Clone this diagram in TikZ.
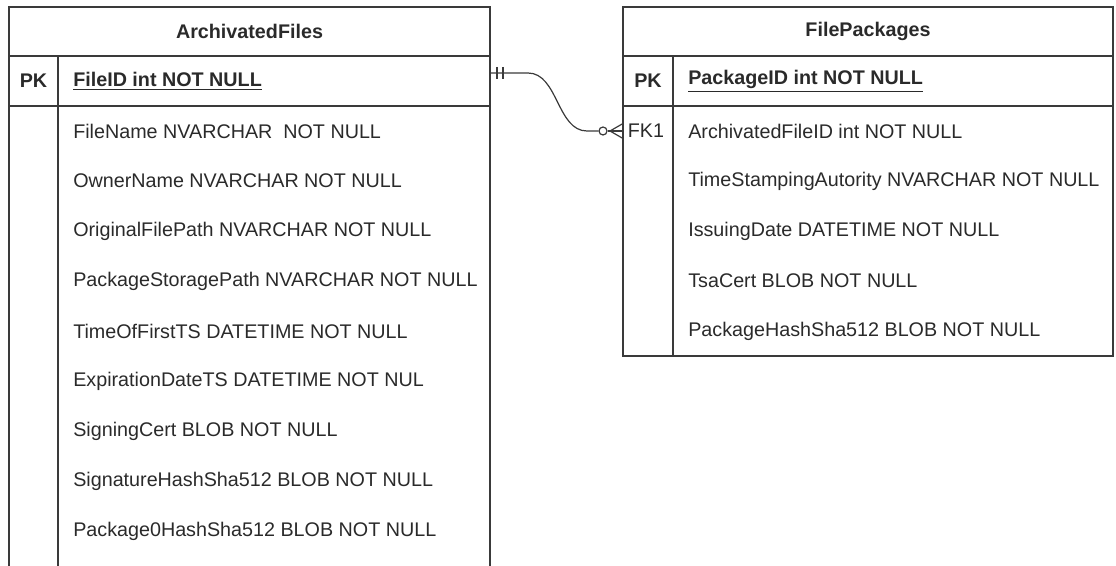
\documentclass[tikz,border=0pt]{standalone}
\usepackage{fontspec}
\setmainfont{Liberation Sans}
\usetikzlibrary{calc}
\definecolor{linec}{HTML}{3A3A3A}
\definecolor{txtc}{HTML}{2A2A2A}
\newcommand{\fldfont}{\fontsize{14.8}{17}\selectfont}
\tikzset{
  tbl/.style={draw=linec, line width=1.1pt},
  fld/.style={anchor=west, inner sep=0pt, font=\fldfont, text=txtc},
  keycell/.style={anchor=center, inner sep=0pt, font=\fldfont, text=txtc},
  title/.style={anchor=center, inner sep=0pt, font=\fldfont\bfseries, text=txtc},
  conn/.style={draw=linec, line width=0.9pt},
}
\begin{document}
\begin{tikzpicture}[x=0.75pt,y=-0.75pt]
\useasboundingbox (0,0) rectangle (1116,566);

% ---- ArchivatedFiles table (continues below the page edge)
\draw[tbl] (9,566) -- (9,7) -- (490,7) -- (490,566);
\draw[tbl] (9,56) -- (490,56);
\draw[tbl] (9,106) -- (490,106);
\draw[tbl] (58,56) -- (58,566);

\node[title] (afTitle) at (249.5,31) {ArchivatedFiles};
\node[keycell,font=\fldfont\bfseries] (afPK) at (33.5,81) {PK};
\node[fld,font=\fldfont\bfseries] (afId) at (73,81) {\underline{FileID int NOT NULL}};
\node[fld] (af1) at (73,131) {FileName NVARCHAR\ \ NOT NULL};
\node[fld] (af2) at (73,181) {OwnerName NVARCHAR NOT NULL};
\node[fld] (af3) at (73,231) {OriginalFilePath NVARCHAR NOT NULL};
\node[fld] (af4) at (73,281) {PackageStoragePath NVARCHAR NOT NULL};
\node[fld] (af5) at (73,331) {TimeOfFirstTS DATETIME NOT NULL};
\node[fld] (af6) at (73,381) {ExpirationDateTS DATETIME NOT NUL};
\node[fld] (af7) at (73,431) {SigningCert BLOB NOT NULL};
\node[fld] (af8) at (73,481) {SignatureHashSha512 BLOB NOT NULL};
\node[fld] (af9) at (73,531) {Package0HashSha512 BLOB NOT NULL};

% ---- FilePackages table
\draw[tbl] (623,7) rectangle (1113,356);
\draw[tbl] (623,56) -- (1113,56);
\draw[tbl] (623,106) -- (1113,106);
\draw[tbl] (673,56) -- (673,356);

\node[title] (fpTitle) at (868,31) {FilePackages};
\node[keycell,font=\fldfont\bfseries] (fpPK) at (648,81) {PK};
\node[fld,font=\fldfont\bfseries] (fpId) at (688,81) {\underline{PackageID int NOT NULL}};
\node[keycell] (fpFK) at (646,131) {FK1};
\node[fld] (fp1) at (688,131) {ArchivatedFileID int NOT NULL};
\node[fld] (fp2) at (688,181) {TimeStampingAutority NVARCHAR NOT NULL};
\node[fld] (fp3) at (688,231) {IssuingDate DATETIME NOT NULL};
\node[fld] (fp4) at (688,281) {TsaCert BLOB NOT NULL};
\node[fld] (fp5) at (688,331) {PackageHashSha512 BLOB NOT NULL};

% ---- relationship: exactly one  ->  zero or many
\coordinate (relSrc) at (490,73);
\coordinate (relDst) at (623,131);
\coordinate (relBend) at (528,73);
\coordinate (relEnd) at (587,131);
\coordinate (relFoot) at (610,131);
\node[draw=linec, line width=0.9pt, circle, minimum size=6pt, inner sep=0pt, fill=white] (relZero) at (603,131) {};

\draw[conn] (relSrc) -- (relBend)
  .. controls (558,73) and (557,131) .. (relEnd) -- (relZero.west);
\draw[conn] (relZero.east) -- (relDst);
% one-and-only-one bars
\draw[conn] ($(relSrc)+(7,-6)$) -- ($(relSrc)+(7,6)$);
\draw[conn] ($(relSrc)+(13,-6)$) -- ($(relSrc)+(13,6)$);
% crow's foot
\draw[conn] (relFoot) -- ($(relDst)+(0,-7.5)$);
\draw[conn] (relFoot) -- ($(relDst)+(0,7.5)$);
\end{tikzpicture}
\end{document}
